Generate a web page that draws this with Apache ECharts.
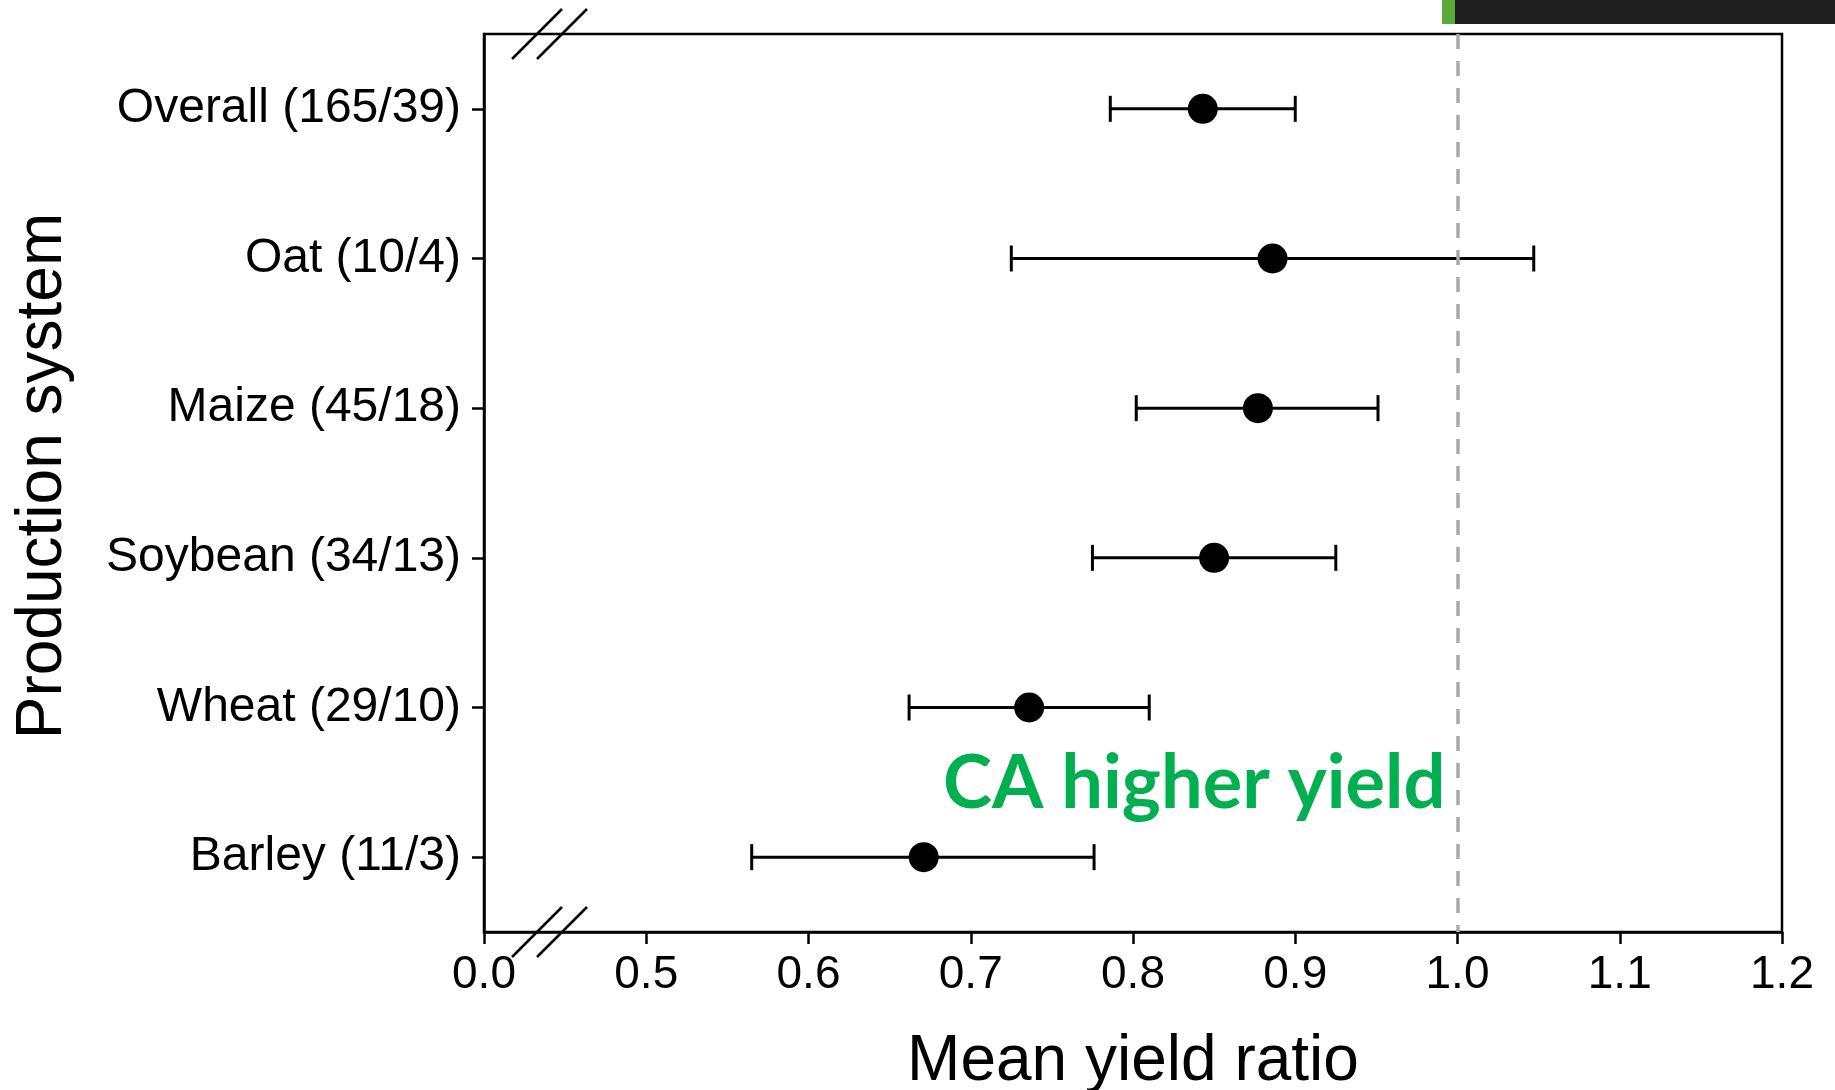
<!DOCTYPE html>
<html>
<head>
<meta charset="utf-8">
<script src="https://cdn.jsdelivr.net/npm/echarts@6/dist/echarts.min.js"></script>
<style>
  html, body { margin: 0; padding: 0; background: #fff; }
  #main { width: 1835px; height: 1090px; }
</style>
</head>
<body>
<div id="main"></div>
<script>
// production systems (top to bottom)
var categories = ['Overall (165/39)', 'Oat (10/4)', 'Maize (45/18)', 'Soybean (34/13)', 'Wheat (29/10)', 'Barley (11/3)'];
// mean yield ratio and 95% CI
var means = [0.843, 0.886, 0.877, 0.850, 0.736, 0.671];
var lower = [0.786, 0.725, 0.802, 0.775, 0.662, 0.565];
var upper = [0.900, 1.047, 0.951, 0.925, 0.810, 0.776];
// x ticks; the first one sits after the axis break
var xTicks = [0.4, 0.5, 0.6, 0.7, 0.8, 0.9, 1.0, 1.1, 1.2];
var xTickLabels = ['0.0', '0.5', '0.6', '0.7', '0.8', '0.9', '1.0', '1.1', '1.2'];
var refLine = 1.0;

var gridLeft = 484, gridTop = 34, gridRight = 53, gridBottom = 158;
var axisY = 1090 - gridBottom;

var pointData = [];
var errData = [];
for (var i = 0; i < categories.length; i++) {
    pointData.push([means[i], i]);
    errData.push([lower[i], upper[i], i]);
}

function tickLabel(v) {
    for (var k = 0; k < xTicks.length; k++) {
        if (Math.abs(xTicks[k] - v) < 1e-6) return xTickLabels[k];
    }
    return '';
}

// the two little slashes of the axis break
function breakMarks(y) {
    var out = [];
    [28, 53].forEach(function (dx) {
        out.push({
            type: 'line',
            shape: { x1: gridLeft + dx, y1: y + 25, x2: gridLeft + dx + 50, y2: y - 25 },
            style: { stroke: '#000', lineWidth: 2.5 },
            z: 100
        });
    });
    return out;
}

var myChart = echarts.init(document.getElementById('main'));
var option = {
    backgroundColor: '#fff',
    animation: false,
    grid: {
        left: gridLeft, right: gridRight, top: gridTop, bottom: gridBottom,
        outerBoundsMode: 'none',
        containLabel: false,
        show: true, borderColor: '#000', borderWidth: 2.5, backgroundColor: 'transparent'
    },
    xAxis: {
        type: 'value',
        min: 0.4, max: 1.2, interval: 0.1,
        name: 'Mean yield ratio',
        nameLocation: 'middle',
        nameGap: 98,
        nameTextStyle: { fontFamily: 'Liberation Sans', fontSize: 64, color: '#000' },
        axisLine: { show: true, lineStyle: { color: '#000', width: 2.5 } },
        axisTick: { show: true, length: 12, lineStyle: { color: '#000', width: 2.5 } },
        axisLabel: {
            fontFamily: 'Liberation Sans', fontSize: 46, color: '#000', margin: 20,
            formatter: tickLabel
        },
        splitLine: { show: false }
    },
    yAxis: {
        type: 'category',
        data: categories,
        inverse: true,
        name: 'Production system',
        nameLocation: 'middle',
        nameGap: 409,
        nameRotate: 90,
        nameTextStyle: { fontFamily: 'Liberation Sans', fontSize: 64, color: '#000', padding: [0, 0, 0, 14] },
        axisLine: { show: true, lineStyle: { color: '#000', width: 2.5 } },
        axisTick: { show: true, alignWithLabel: true, length: 12, lineStyle: { color: '#000', width: 2.5 } },
        axisLabel: { fontFamily: 'Liberation Sans', fontSize: 48, color: '#000', margin: 23, padding: [7, 0, 0, 0] },
        splitLine: { show: false }
    },
    series: [
        {
            type: 'custom',
            name: 'CI',
            data: errData,
            encode: { x: [0, 1], y: 2 },
            renderItem: function (params, api) {
                var c = api.value(2);
                var p1 = api.coord([api.value(0), c]);
                var p2 = api.coord([api.value(1), c]);
                var h = 13;
                var st = { stroke: '#000', lineWidth: 3 };
                return {
                    type: 'group',
                    children: [
                        { type: 'line', shape: { x1: p1[0], y1: p1[1], x2: p2[0], y2: p2[1] }, style: st },
                        { type: 'line', shape: { x1: p1[0], y1: p1[1] - h, x2: p1[0], y2: p1[1] + h }, style: st },
                        { type: 'line', shape: { x1: p2[0], y1: p2[1] - h, x2: p2[0], y2: p2[1] + h }, style: st }
                    ]
                };
            },
            z: 2
        },
        {
            type: 'scatter',
            name: 'Mean',
            data: pointData,
            symbol: 'circle',
            symbolSize: 30,
            itemStyle: { color: '#000', opacity: 1 },
            z: 3,
            markLine: {
                silent: true,
                symbol: 'none',
                label: { show: false },
                lineStyle: { color: '#aaaaaa', width: 3.5, type: [15, 12] },
                data: [{ xAxis: refLine }]
            }
        }
    ],
    graphic: [
        { type: 'rect', shape: { x: 1442, y: 0, width: 13, height: 24 }, style: { fill: '#5aaa3c' } },
        { type: 'rect', shape: { x: 1455, y: 0, width: 380, height: 24 }, style: { fill: '#1e1e1e' } },
        {
            type: 'text',
            x: 943, y: 784,
            style: {
                text: 'CA higher yield',
                fontFamily: 'Lato', fontWeight: 'bold', fontSize: 74,
                fill: '#00b050', verticalAlign: 'middle', align: 'left'
            },
            z: 50
        }
    ].concat(breakMarks(gridTop)).concat(breakMarks(axisY))
};
myChart.setOption(option);
</script>
</body>
</html>
